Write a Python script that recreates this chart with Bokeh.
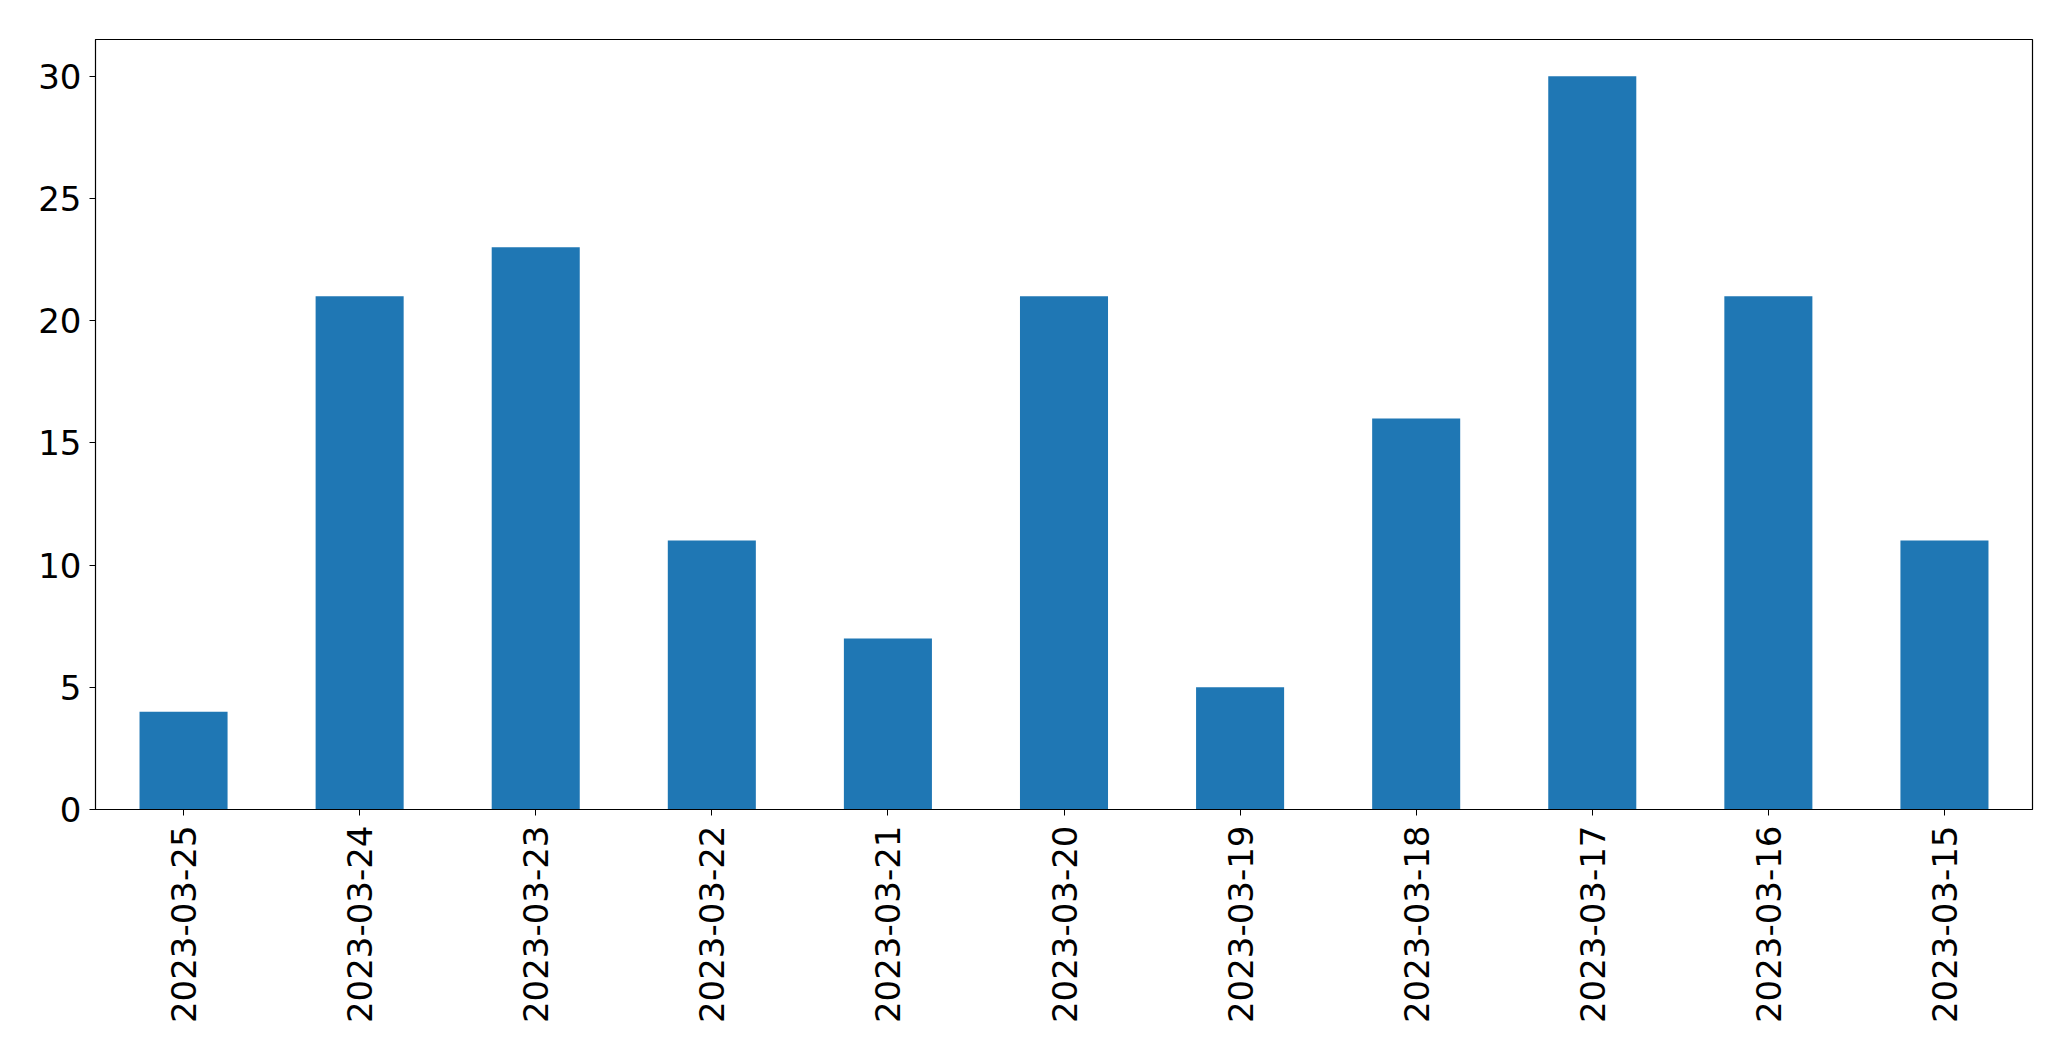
import math
from bokeh.plotting import figure
from bokeh.models import Range1d, FactorRange, FixedTicker, ColumnDataSource
from bokeh.embed import file_html
from bokeh.resources import INLINE

dates = ["2023-03-25", "2023-03-24", "2023-03-23", "2023-03-22", "2023-03-21",
         "2023-03-20", "2023-03-19", "2023-03-18", "2023-03-17", "2023-03-16",
         "2023-03-15"]
counts = [4, 21, 23, 11, 7, 21, 5, 16, 30, 21, 11]
y_ticks = [0, 5, 10, 15, 20, 25, 30]

src = ColumnDataSource(dict(date=dates, count=counts))

p = figure(x_range=FactorRange(factors=dates), y_range=Range1d(0, 31.5),
           frame_width=1937, frame_height=770,
           min_border_left=95, min_border_top=39, min_border_right=10, min_border_bottom=10,
           output_backend="svg", toolbar_location=None)

p.vbar(x="date", top="count", width=0.5, source=src, color="#1f77b4", line_color=None)

p.xgrid.visible = False
p.ygrid.visible = False
p.outline_line_color = "black"
p.outline_line_alpha = 1.0
p.outline_line_width = 1.2
p.background_fill_color = "white"
p.border_fill_color = "white"

for ax in (p.xaxis[0], p.yaxis[0]):
    ax.major_label_text_font = "DejaVu Sans"
    ax.major_label_text_font_size = "34px"
    ax.major_label_text_color = "black"
    ax.major_tick_in = 0
    ax.major_tick_out = 6
    ax.major_tick_line_color = "black"
    ax.minor_tick_line_color = None
    ax.axis_line_color = "black"

p.yaxis[0].ticker = FixedTicker(ticks=y_ticks)
p.yaxis[0].major_label_standoff = 8
p.xaxis[0].major_label_orientation = math.pi / 2
p.xaxis[0].major_label_standoff = 10

open("out.html", "w").write(file_html(p, INLINE))
